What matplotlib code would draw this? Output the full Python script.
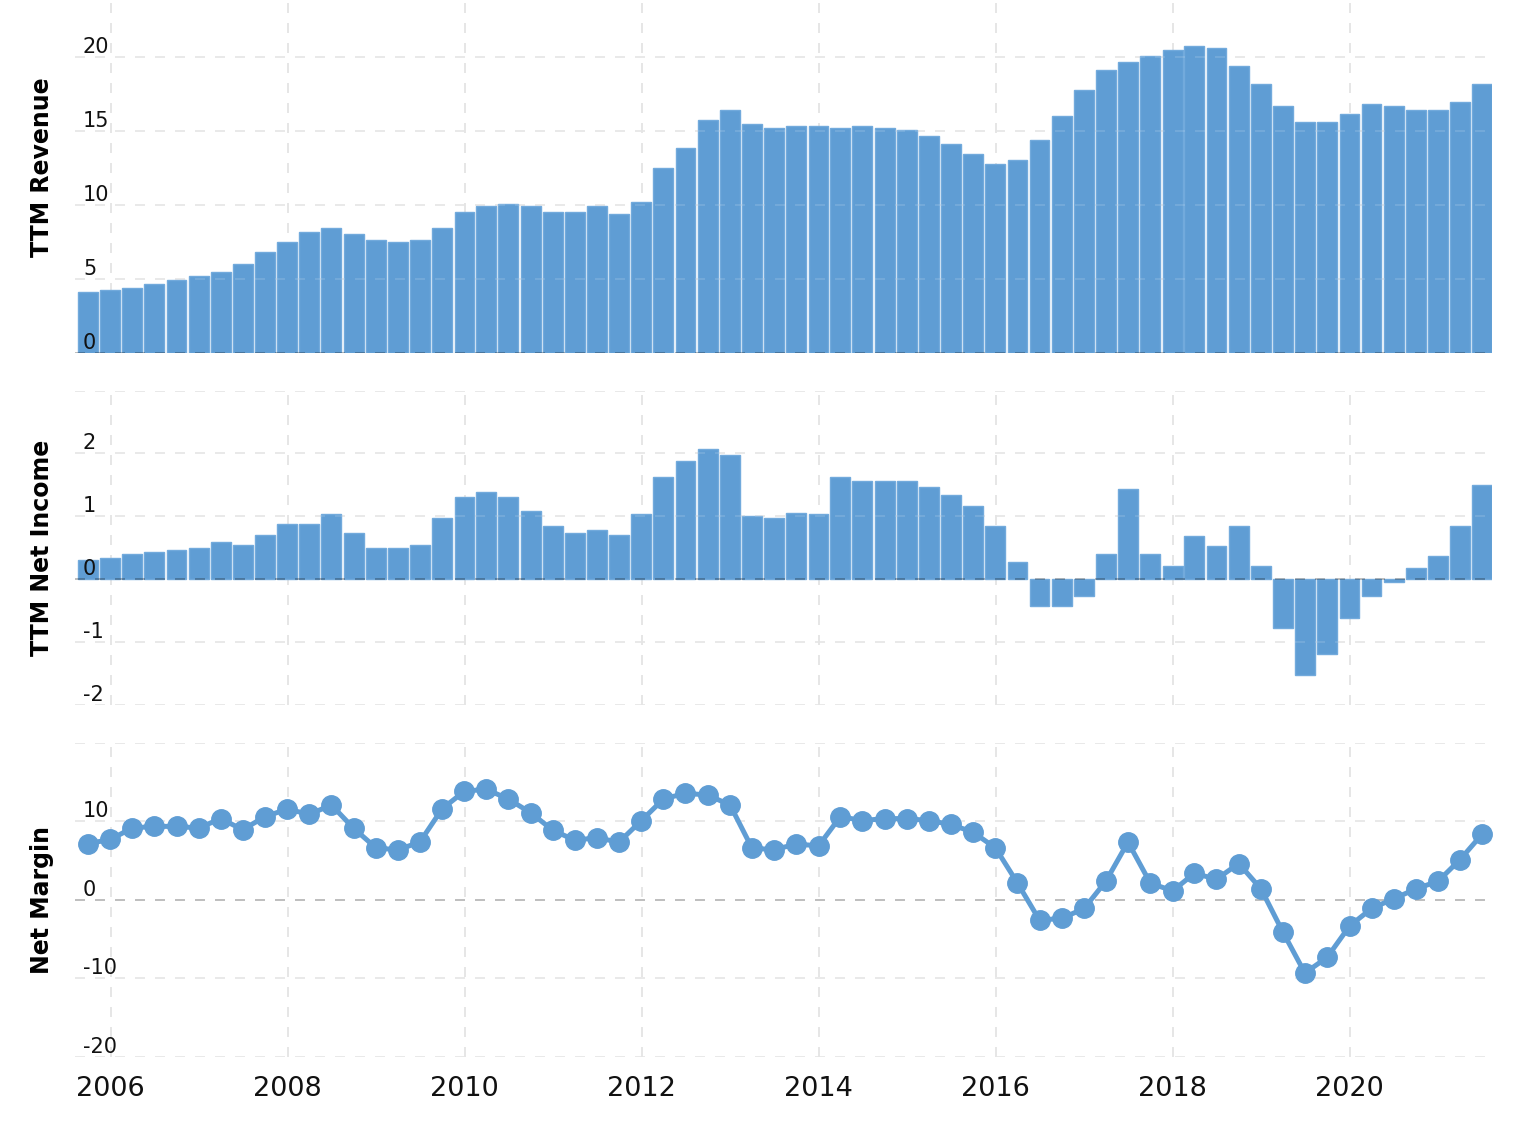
import matplotlib
matplotlib.use('Agg')
import matplotlib.pyplot as plt
import matplotlib.dates as mdates
import pandas as pd

# quarterly periods, Q3 2005 .. Q2 2021
quarters = pd.date_range('2005-09-30', periods=64, freq='QE')

revenue = [
    4.10, 4.24, 4.37, 4.64, 4.91, 5.18, 5.45, 5.99, 6.80, 7.48,
    8.16, 8.43, 8.02, 7.61, 7.48, 7.61, 8.43, 9.51, 9.91, 10.05,
    9.91, 9.51, 9.51, 9.91, 9.37, 10.18, 12.48, 13.83, 15.72, 16.40,
    15.45, 15.18, 15.32, 15.32, 15.18, 15.32, 15.18, 15.05, 14.64, 14.10,
    13.43, 12.75, 13.02, 14.37, 16.00, 17.75, 19.10, 19.64, 20.05, 20.45,
    20.72, 20.59, 19.37, 18.16, 16.67, 15.59, 15.59, 16.13, 16.80, 16.67,
    16.40, 16.40, 16.94, 18.16,
]

net_income = [
    0.30, 0.33, 0.40, 0.43, 0.46, 0.49, 0.59, 0.55, 0.71, 0.87,
    0.87, 1.03, 0.74, 0.49, 0.49, 0.55, 0.97, 1.31, 1.38, 1.31,
    1.09, 0.84, 0.74, 0.78, 0.71, 1.03, 1.63, 1.88, 2.07, 1.98,
    1.00, 0.97, 1.06, 1.03, 1.63, 1.57, 1.57, 1.57, 1.47, 1.34,
    1.16, 0.84, 0.27, -0.43, -0.43, -0.27, 0.40, 1.44, 0.40, 0.21,
    0.68, 0.52, 0.84, 0.21, -0.78, -1.53, -1.19, -0.62, -0.27, -0.05,
    0.17, 0.36, 0.84, 1.50,
]

net_margin = [
    7.14, 7.68, 9.13, 9.34, 9.34, 9.13, 10.33, 8.92, 10.58, 11.54,
    10.87, 12.07, 9.09, 6.60, 6.35, 7.34, 11.58, 13.82, 14.07, 12.82,
    11.08, 8.84, 7.59, 7.88, 7.34, 10.08, 12.82, 13.57, 13.32, 12.07,
    6.60, 6.35, 7.10, 6.85, 10.58, 10.08, 10.33, 10.33, 10.08, 9.59,
    8.59, 6.60, 2.12, -2.61, -2.37, -1.12, 2.37, 7.34, 2.12, 1.12,
    3.36, 2.61, 4.61, 1.37, -4.11, -9.34, -7.34, -3.36, -1.12, 0.12,
    1.37, 2.37, 5.10, 8.34,
]

rev_ticks = [0, 5, 10, 15, 20]
ni_ticks = [-2, -1, 0, 1, 2, 3]
nm_ticks = [-20, -10, 0, 10, 20]

BLUE = '#5f9dd4'
GRID = '#e2e2e2'
DASH = (0, (6, 6))

fig = plt.figure(figsize=(15.18, 11.34), dpi=100)
W, H = 1518, 1134
left, width = 75 / W, 1417 / W


def px_axes(top, bottom):
    return fig.add_axes([left, 1 - bottom / H, width, (bottom - top) / H])


ax1 = px_axes(3, 352.7)
ax2 = px_axes(390.7, 704.7)
ax3 = px_axes(742.7, 1056.7)

xmin = quarters[0] - pd.Timedelta(days=54)
xmax = quarters[-1] + pd.Timedelta(days=41)
year_loc = mdates.YearLocator(2, month=1, day=1)


def style(ax, ticks, ylim, label, label_y=0.5, show_top=True):
    ax.set_xlim(xmin, xmax)
    ax.set_ylim(*ylim)
    for s in ax.spines.values():
        s.set_visible(False)
    ax.grid(False)
    ax.set_axisbelow(False)  # tick labels on top of bars
    # vertical grid below the data
    ax.xaxis.set_major_locator(year_loc)
    ax.xaxis.set_major_formatter(mdates.DateFormatter('%Y'))
    for xv in ax.get_xticks():
        if mdates.date2num(xmin) <= xv <= mdates.date2num(xmax):
            ax.axvline(xv, color=GRID, linestyle=DASH, linewidth=1.2, zorder=0.5)
    for t in ticks:
        if t == 0:
            ax.axhline(0, color=(0, 0, 0, 0.3), linestyle=DASH, linewidth=1.2, zorder=4)
        else:
            ax.axhline(t, xmax=0.995, color=GRID, linestyle=DASH, linewidth=1.2, zorder=0.5)
            ax.axhline(t, xmax=0.995, color='white', alpha=0.15, linestyle=DASH,
                       linewidth=1.2, zorder=3)
    ax.set_yticks(ticks)
    labels = [str(t) for t in ticks]
    if not show_top:
        labels[-1] = ''
    ax.set_yticklabels(labels)
    ax.tick_params(axis='y', length=0, pad=-8 * 0.72, labelsize=15, labelcolor='#111111')
    plt.setp(ax.get_yticklabels(), ha='left', va='bottom')
    ax.tick_params(axis='x', length=0)
    ax.text(-0.0233, label_y, label, transform=ax.transAxes, rotation=90,
            ha='center', va='center', fontsize=17, fontweight='bold')


ax1.bar(quarters, revenue, width=82, color=BLUE, edgecolor='#72aadc', linewidth=1, zorder=2)
style(ax1, rev_ticks, (0, 23.63), 'TTM Revenue', label_y=0.53)
ax1.tick_params(axis='x', labelbottom=False)

ax2.bar(quarters, net_income, width=82, color=BLUE, edgecolor='#72aadc', linewidth=1, zorder=2)
style(ax2, ni_ticks, (-2, 3), 'TTM Net Income', show_top=False)
ax2.tick_params(axis='x', labelbottom=False)

ax3.plot(quarters, net_margin, color=BLUE, linewidth=3.6, marker='o', markersize=14,
         zorder=5, clip_on=False)
style(ax3, nm_ticks, (-20, 20), 'Net Margin', show_top=False)
ax3.tick_params(axis='x', labelsize=19.5, pad=14, labelcolor='#111111')

fig.savefig('out.png', dpi=100, facecolor='white')
